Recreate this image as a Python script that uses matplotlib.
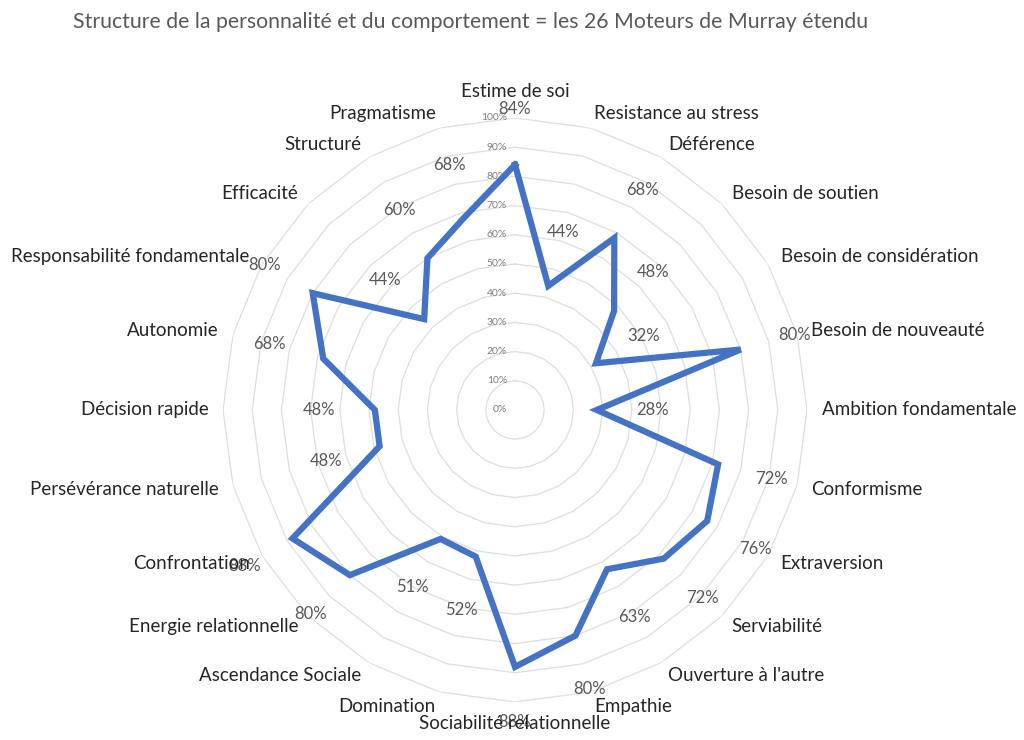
import numpy as np
import matplotlib
matplotlib.use("Agg")
import matplotlib.pyplot as plt
from matplotlib.transforms import offset_copy

plt.rcParams['font.family'] = ['Lato', 'DejaVu Sans']

# === données ===
categories = [
    "Estime de soi", "Resistance au stress", "Déférence", "Besoin de soutien",
    "Besoin de considération", "Besoin de nouveauté", "Ambition fondamentale",
    "Conformisme", "Extraversion", "Serviabilité", "Ouverture à l'autre",
    "Empathie", "Sociabilité relationnelle", "Domination", "Ascendance Sociale",
    "Energie relationnelle", "Confrontation", "Persévérance naturelle",
    "Décision rapide", "Autonomie", "Responsabilité fondamentale",
    "Efficacité", "Structuré", "Pragmatisme",
]
values = [0.84, 0.44, 0.68, 0.48, 0.32, 0.80, 0.28, 0.72, 0.76, 0.72, 0.63,
          0.80, 0.88, 0.52, 0.51, 0.80, 0.88, 0.48, 0.48, 0.68, 0.80,
          0.44, 0.60, 0.68]
ring_levels = [0.1, 0.2, 0.3, 0.4, 0.5, 0.6, 0.7, 0.8, 0.9, 1.0]
tick_levels = [0.0] + ring_levels
tick_labels = [f"{int(round(t * 100))}%" for t in tick_levels]

n = len(categories)
angles = np.linspace(0, 2 * np.pi, n, endpoint=False)

fig = plt.figure(figsize=(10.24, 7.4), dpi=100)
ax = fig.add_axes([0.2178, 0.0514, 0.5703, 0.7892], projection="polar")
ax.set_theta_zero_location("N")
ax.set_theta_direction(-1)
ax.set_ylim(0, 1)
ax.grid(False)
ax.spines["polar"].set_visible(False)
ax.set_xticks([])
ax.set_yticks([])

# grille polygonale
closed = np.append(angles, angles[0])
for lev in ring_levels:
    ax.plot(closed, [lev] * (n + 1), color="#DEDEDE", lw=0.9, zorder=1)

# étiquettes de l'axe radial
tr = offset_copy(ax.transData, fig=fig, x=-8, y=0, units="dots")
for t, lab in zip(tick_levels, tick_labels):
    ax.text(0, t, lab, transform=tr, ha="right", va="center",
            fontsize=7.5, color="#7F7F7F", zorder=2)

# série
ax.plot(closed, values + values[:1], color="#4472C4", lw=4.5, zorder=3,
        solid_joinstyle="miter")

# étiquettes de données
for a, v in zip(angles, values):
    ax.text(a, v + 0.19, f"{int(round(v * 100))}%", ha="center", va="center",
            fontsize=12, color="#595959", zorder=4)

# étiquettes de catégories
for a, c in zip(angles, categories):
    s = np.sin(a)
    if abs(s) < 1e-6:
        r = 1.09 if np.cos(a) > 0 else 1.075
        ha = "center"
    else:
        r = 1.05
        ha = "left" if s > 0 else "right"
    ax.text(a, r, c, ha=ha, va="center", fontsize=13.5, color="#262626",
            zorder=5)

fig.text(0.071, 0.970,
         "Structure de la personnalité et du comportement = les 26 Moteurs de Murray étendu",
         ha="left", va="center", fontsize=15.3, color="#595959")

fig.savefig("out.png", dpi=100)
